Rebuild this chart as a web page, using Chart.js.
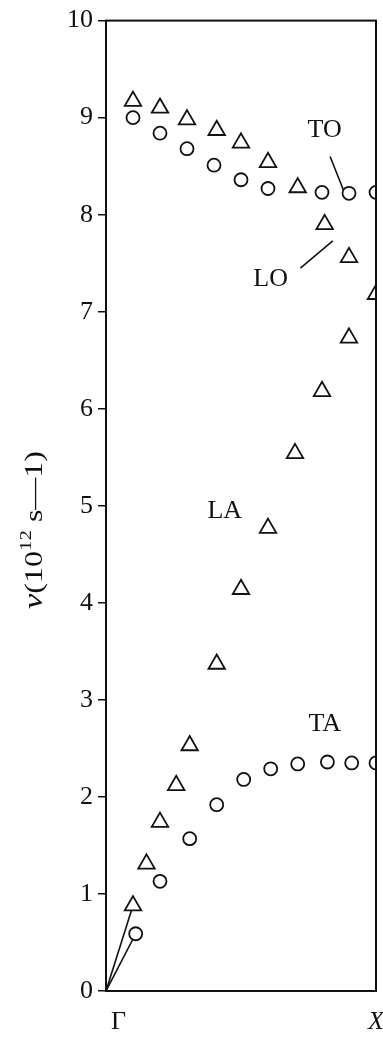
<!DOCTYPE html>
<html>
<head>
<meta charset="utf-8">
<script src="https://cdn.jsdelivr.net/npm/chart.js@4.4.1/dist/chart.umd.min.js"></script>
<style>
    html, body { margin: 0; padding: 0; background: #fff; }
    #wrap { width: 383px; height: 1042px; position: relative; }
</style>
</head>
<body>
<div id="wrap"><canvas id="dispChart"></canvas></div>
<script>
// wave vector as fraction of Gamma -> X, frequency in 10^12 s-1
const qTO  = [0.1, 0.2, 0.3, 0.4, 0.5, 0.6, 0.8, 0.9, 1.0];
const nuTO = [9.00, 8.84, 8.68, 8.51, 8.36, 8.27, 8.23, 8.22, 8.23];

const qLO  = [0.1, 0.2, 0.3, 0.41, 0.5, 0.6, 0.71, 0.81, 0.9, 1.0];
const nuLO = [9.17, 9.10, 8.98, 8.87, 8.74, 8.54, 8.28, 7.90, 7.56, 7.18];

const qLA  = [0.1, 0.15, 0.2, 0.26, 0.31, 0.41, 0.5, 0.6, 0.7, 0.8, 0.9];
const nuLA = [0.88, 1.31, 1.74, 2.12, 2.53, 3.37, 4.14, 4.77, 5.54, 6.18, 6.73];

const qTA  = [0.11, 0.2, 0.31, 0.41, 0.51, 0.61, 0.71, 0.82, 0.91, 1.0];
const nuTA = [0.59, 1.13, 1.57, 1.92, 2.18, 2.29, 2.34, 2.36, 2.35, 2.35];

// leader lines (origin to first points, label pointers)
const lineOriginLA = [[0, 0], [0.1, 0.88]];
const lineOriginTA = [[0, 0], [0.11, 0.59]];
const lineTO = [[0.83, 8.60], [0.89, 8.18]];
const lineLO = [[0.84, 7.73], [0.72, 7.45]];

const yTicks = [0, 1, 2, 3, 4, 5, 6, 7, 8, 9, 10];

// branch labels: [text, q, nu]
const branchLabels = [
    ['TO', 0.81, 8.87],
    ['LO', 0.61, 7.34],
    ['LA', 0.44, 4.94],
    ['TA', 0.81, 2.75]
];

const SERIF = '"Liberation Serif", "DejaVu Serif", serif';

const pts = (xs, ys) => xs.map((x, i) => ({ x: x, y: ys[i] }));
const seg = arr => arr.map(p => ({ x: p[0], y: p[1] }));

function leader(data) {
    return {
        data: seg(data),
        showLine: true,
        borderColor: '#111',
        borderWidth: 1.6,
        pointRadius: 0,
        order: 2
    };
}

function markers(label, data, style, r) {
    return {
        label: label,
        data: data,
        pointStyle: style,
        pointRadius: r,
        pointBorderWidth: 1.8,
        pointBorderColor: '#111',
        pointBackgroundColor: '#fff',
        showLine: false,
        order: 0
    };
}

// frame + text annotations
const decor = {
    id: 'decor',
    afterDraw(chart) {
        const { ctx, chartArea: a, scales } = chart;
        const xs = scales.x, ys = scales.y;
        ctx.save();
        ctx.strokeStyle = '#111';
        ctx.lineWidth = 2;
        ctx.strokeRect(a.left, a.top, a.right - a.left, a.bottom - a.top);

        ctx.fillStyle = '#111';
        ctx.textAlign = 'center';
        ctx.textBaseline = 'middle';
        ctx.font = '26px ' + SERIF;
        branchLabels.forEach(l => {
            ctx.fillText(l[0], xs.getPixelForValue(l[1]), ys.getPixelForValue(l[2]));
        });

        // Gamma and X under the axis
        ctx.textBaseline = 'top';
        ctx.textAlign = 'left';
        ctx.fillText('Γ', a.left + 5, a.bottom + 18);
        ctx.font = 'italic 26px ' + SERIF;
        ctx.fillText('X', a.right - 8, a.bottom + 18);

        // y title with superscript, stretched along its length like the scan
        const parts = [
            ['ν', 'italic 28px ' + SERIF, 0],
            ['(10', '26px ' + SERIF, 0],
            ['12', '17px ' + SERIF, -8],
            [' s\u20141)', '26px ' + SERIF, 0]
        ];
        let total = 0;
        parts.forEach(p => { ctx.font = p[1]; total += ctx.measureText(p[0]).width; });
        ctx.translate(35, 530);
        ctx.rotate(-Math.PI / 2);
        ctx.scale(158 / total, 1);
        ctx.textBaseline = 'middle';
        let cx = -total / 2;
        parts.forEach(p => {
            ctx.font = p[1];
            ctx.fillText(p[0], cx, p[2]);
            cx += ctx.measureText(p[0]).width;
        });
        ctx.restore();
    }
};

const ctx = document.getElementById('dispChart').getContext('2d');
new Chart(ctx, {
    type: 'scatter',
    data: {
        datasets: [
            markers('TO', pts(qTO, nuTO), 'circle', 6.5),
            markers('LO', pts(qLO, nuLO), 'triangle', 9.5),
            markers('LA', pts(qLA, nuLA), 'triangle', 9.5),
            markers('TA', pts(qTA, nuTA), 'circle', 6.5),
            leader(lineOriginLA),
            leader(lineOriginTA),
            leader(lineTO),
            leader(lineLO)
        ]
    },
    options: {
        responsive: true,
        maintainAspectRatio: false,
        animation: false,
        layout: { autoPadding: false, padding: { top: 14, right: 7, left: 0, bottom: 0 } },
        plugins: {
            legend: { display: false },
            tooltip: { enabled: false }
        },
        scales: {
            x: {
                type: 'linear',
                min: 0,
                max: 1,
                grid: { display: false, drawTicks: false },
                border: { display: true, color: '#111', width: 2 },
                ticks: { display: false },
                afterFit(scale) { scale.height = 51; }
            },
            y: {
                type: 'linear',
                min: 0,
                max: 10,
                afterBuildTicks(scale) { scale.ticks = yTicks.map(v => ({ value: v })); },
                grid: {
                    drawOnChartArea: false,
                    drawTicks: true,
                    tickLength: 8,
                    color: '#111',
                    lineWidth: 1.5
                },
                border: { display: true, color: '#111', width: 2 },
                ticks: {
                    color: '#111',
                    padding: 5,
                    font: { family: SERIF, size: 26 }
                },
                afterFit(scale) { scale.width = 106; }
            }
        }
    },
    plugins: [decor]
});
</script>
</body>
</html>
